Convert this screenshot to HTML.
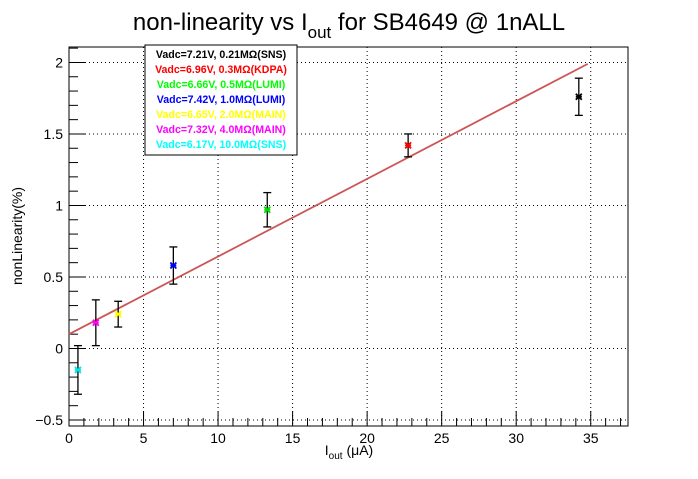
<!DOCTYPE html>
<html><head><meta charset="utf-8"><style>
body{margin:0;background:#fff;width:698px;height:474px;overflow:hidden}
svg text{font-family:"Liberation Sans",Arial,sans-serif}
</style></head><body>
<svg id="chart" width="698" height="474" xmlns="http://www.w3.org/2000/svg">
<text x="349" y="30" text-anchor="middle" font-size="24">non-linearity vs I<tspan font-size="17" dy="8">out</tspan><tspan dy="-8"> for SB4649 @ 1nALL</tspan></text>
<g id="grid"></g>
<g id="axes"></g>
<g id="fit"></g>
<g id="pts"></g>
<text x="349" y="455" text-anchor="middle" font-size="14">I<tspan font-size="10" dy="4">out</tspan><tspan dy="-4"> (μA)</tspan></text>
<text transform="translate(22,236) rotate(-90)" text-anchor="middle" font-size="14">nonLinearity(%)</text>
<g>
<rect x="145" y="45" width="152" height="110" fill="#fff" stroke="#000" stroke-width="1"/>
<g font-size="10.6" font-weight="bold" text-anchor="middle">
<text x="221" y="58" fill="#000">Vadc=7.21V, 0.21MΩ(SNS)</text>
<text x="221" y="73" fill="#ff0000">Vadc=6.96V, 0.3MΩ(KDPA)</text>
<text x="221" y="88" fill="#00ff00">Vadc=6.66V, 0.5MΩ(LUMI)</text>
<text x="221" y="103" fill="#0000ff">Vadc=7.42V, 1.0MΩ(LUMI)</text>
<text x="221" y="118" fill="#ffff00">Vadc=6.65V, 2.0MΩ(MAIN)</text>
<text x="221" y="133" fill="#ff00ff">Vadc=7.32V, 4.0MΩ(MAIN)</text>
<text x="221" y="148" fill="#00ffff">Vadc=6.17V, 10.0MΩ(SNS)</text>
</g></g>
</svg>
<script>
const xVals=[0.6,1.8,3.3,7.0,13.3,22.75,34.2];
const yVals=[-0.15,0.18,0.24,0.58,0.97,1.42,1.76];
const yErr=[0.17,0.16,0.09,0.13,0.12,0.08,0.13];
const colors=["#00e5e5","#ff00ff","#ffff00","#0000ff","#00dd00","#ff0000","#000000"];
const fitX=[0,34.8];
const fitY=[0.10,1.99];
const xTicks=[0,5,10,15,20,25,30,35];
const yTicks=[-0.5,0,0.5,1,1.5,2];
const yTickLabels=["−0.5","0","0.5","1","1.5","2"];
const L=69,R=628,T=47,B=426,xMin=0,xMax=37.5,yMin=-0.542,yMax=2.108;
const sx=v=>L+(v-xMin)/(xMax-xMin)*(R-L);
const sy=v=>B-(v-yMin)/(yMax-yMin)*(B-T);
const NS="http://www.w3.org/2000/svg";
function mk(p,t,a){const e=document.createElementNS(NS,t);for(const k in a)e.setAttribute(k,a[k]);p.appendChild(e);return e;}
const grid=document.getElementById('grid'),axes=document.getElementById('axes');
xTicks.forEach(v=>{if(v>0){const g=mk(grid,'line',{x1:sx(v),x2:sx(v),y1:T,y2:B,stroke:'#000','stroke-dasharray':'1,3'});

}});
yTicks.forEach(v=>{const g=mk(grid,'line',{x1:L,x2:R,y1:sy(v),y2:sy(v),stroke:'#000','stroke-dasharray':'1,3'});

});
mk(axes,'rect',{x:L,y:T,width:R-L,height:B-T,fill:'none',stroke:'#000'});
for(let v=0;v<=37.5;v+=1){const big=v%5===0;mk(axes,'line',{x1:sx(v),x2:sx(v),y1:B,y2:B-(big?15:8),stroke:'#000'});}
xTicks.forEach(v=>{const t=mk(axes,'text',{x:sx(v),y:B+17,'text-anchor':'middle','font-size':14});t.textContent=v;

});
for(let i=-5;i<=21;i++){const v=i/10;const big=i%5===0;mk(axes,'line',{x1:L,x2:L+(big?17:9),y1:sy(v),y2:sy(v),stroke:'#000'});}
yTicks.forEach((v,i)=>{const t=mk(axes,'text',{x:L-6,y:sy(v)+5,'text-anchor':'end','font-size':14});t.textContent=yTickLabels[i];

});
const fl=mk(document.getElementById('fit'),'line',{x1:sx(fitX[0]),y1:sy(fitY[0]),x2:sx(fitX[1]),y2:sy(fitY[1]),stroke:'#cc5555','stroke-width':1.8});


const pts=document.getElementById('pts');
xVals.forEach((x,i)=>{const g=mk(pts,'g',{});


const X=sx(x),Y=sy(yVals[i]),Y1=sy(yVals[i]+yErr[i]),Y2=sy(yVals[i]-yErr[i]);
mk(g,'line',{x1:X,x2:X,y1:Y1,y2:Y2,stroke:'#000','stroke-width':1.3});
mk(g,'line',{x1:X-4,x2:X+4,y1:Y1,y2:Y1,stroke:'#000','stroke-width':1.3});
mk(g,'line',{x1:X-4,x2:X+4,y1:Y2,y2:Y2,stroke:'#000','stroke-width':1.3});
mk(g,'path',{d:`M${X-3},${Y-3}L${X+3},${Y+3}M${X+3},${Y-3}L${X-3},${Y+3}M${X-3},${Y}L${X+3},${Y}`,stroke:colors[i],'stroke-width':1.8});});
</script>
</body></html>
